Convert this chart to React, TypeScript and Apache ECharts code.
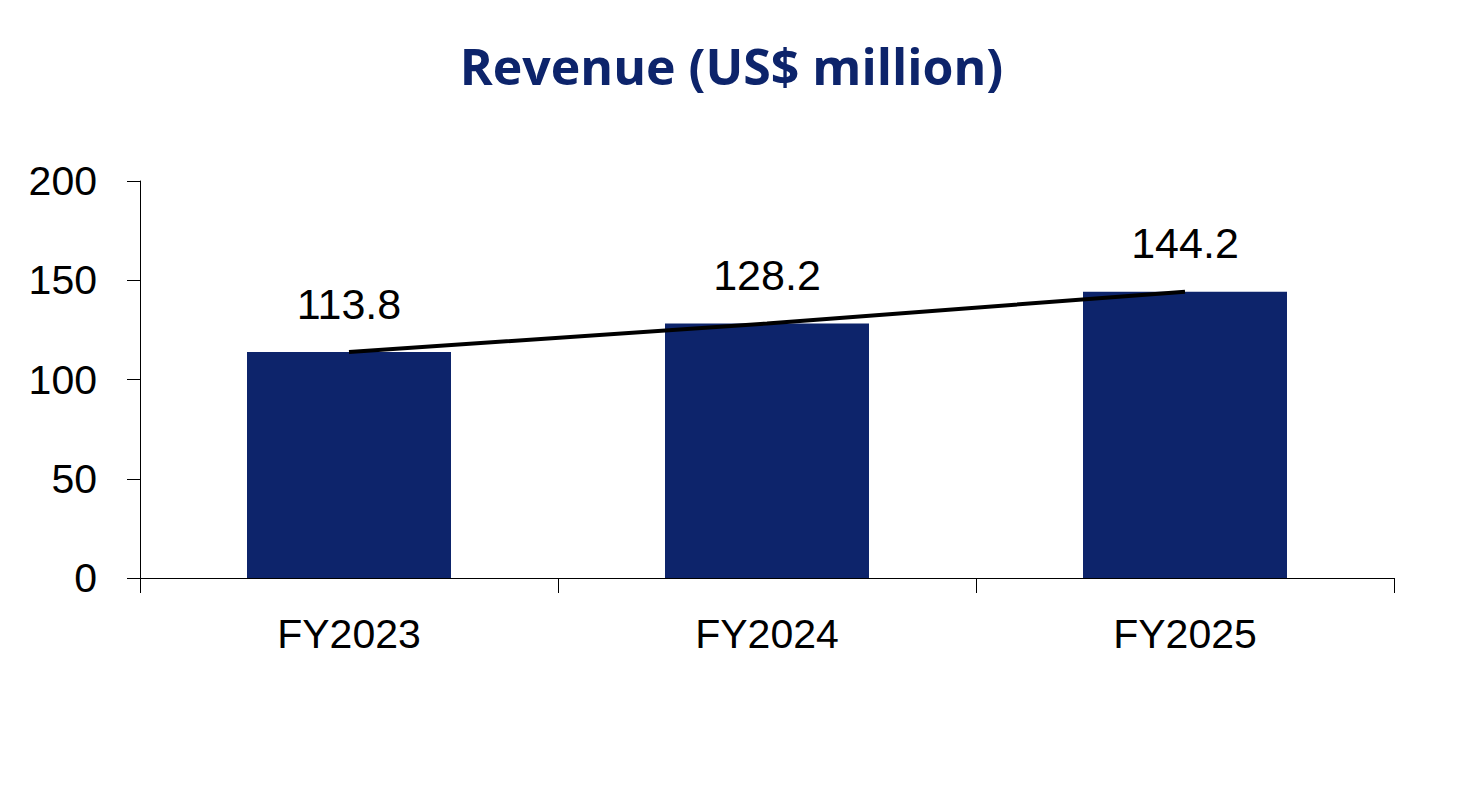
import { useEffect, useRef } from 'react';
import * as echarts from 'echarts';

const categories = ['FY2023', 'FY2024', 'FY2025'];
const revenue = [113.8, 128.2, 144.2];
const trend = [113.8, 128.2, 144.2];

const NAVY = '#0d246b';
const FONT = '"Liberation Sans", Arial, sans-serif';

const App = () => {
  const chartRef = useRef<HTMLDivElement>(null);

  useEffect(() => {
    document.body.style.margin = '0';
    if (!chartRef.current) return;
    const chart = echarts.init(chartRef.current, undefined, { renderer: 'svg' });

    chart.setOption({
      animation: false,
      title: {
        text: 'Revenue (US$ million)',
        left: 'center',
        top: 36,
        textStyle: {
          color: NAVY,
          fontFamily: '"Open Sans", Inter, sans-serif',
          fontWeight: 'bold',
          fontSize: 50
        }
      },
      grid: {
        left: 140,
        right: 69,
        top: 181,
        bottom: 228
      },
      xAxis: {
        type: 'category',
        data: categories,
        axisLine: { lineStyle: { color: '#000', width: 1 } },
        axisTick: { show: true, interval: 0, length: 15, lineStyle: { color: '#000' } },
        axisLabel: {
          color: '#000',
          fontFamily: FONT,
          fontSize: 41,
          margin: 35
        }
      },
      yAxis: {
        type: 'value',
        min: 0,
        max: 200,
        interval: 50,
        splitLine: { show: false },
        axisLine: { show: true, lineStyle: { color: '#000', width: 1 } },
        axisTick: { show: true, length: 13, lineStyle: { color: '#000' } },
        axisLabel: {
          color: '#000',
          fontFamily: FONT,
          fontSize: 41,
          margin: 43
        }
      },
      series: [
        {
          type: 'bar',
          data: revenue,
          barWidth: 204,
          itemStyle: { color: NAVY },
          label: {
            show: true,
            position: 'top',
            distance: 27,
            color: '#000',
            fontFamily: FONT,
            fontSize: 43,
            formatter: (p: any) => p.value.toFixed(1)
          }
        },
        {
          type: 'line',
          data: trend,
          symbol: 'none',
          lineStyle: { color: '#000', width: 4 },
          z: 3
        }
      ]
    });

    return () => {
      chart.dispose();
    };
  }, []);

  return <div ref={chartRef} style={{ width: '1463px', height: '806px' }} />;
};

export default App;
